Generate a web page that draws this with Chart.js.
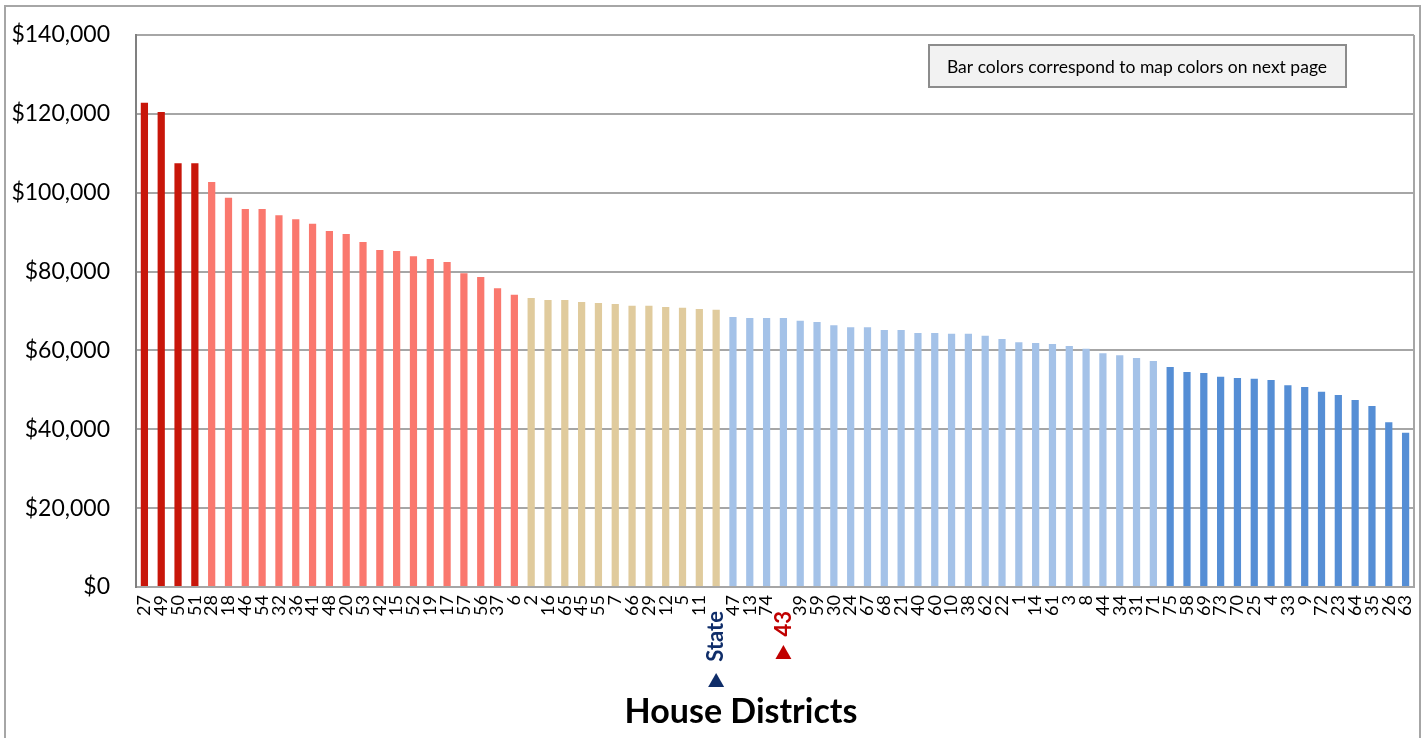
<!DOCTYPE html>
<html lang="en">
<head>
<meta charset="UTF-8">
<script src="https://cdn.jsdelivr.net/npm/chart.js"></script>
<title>House Districts</title>
<style>
  body { margin: 0; background: #fff; }
  #wrap { position: relative; width: 1425px; height: 738px; }
</style>
</head>
<body>
<div id="wrap">
  <canvas id="myChart" width="1425" height="738"></canvas>
</div>
<script>
// district labels, in chart order (highest to lowest)
const districts = ['27', '49', '50', '51', '28', '18', '46', '54', '32', '36', '41', '48', '20', '53', '42', '15', '52', '19', '17', '57', '56', '37', '6',
  '2', '16', '65', '45', '55', '7', '66', '29', '12', '5', '11', 'State',
  '47', '13', '74', '43', '39', '59', '30', '24', '67', '68', '21', '40', '60', '10', '38', '62', '22', '1', '14', '61', '3', '8', '44', '34', '31', '71',
  '75', '58', '69', '73', '70', '25', '4', '33', '9', '72', '23', '64', '35', '26', '63'];

const incomes = [122800, 120500, 107500, 107500, 102700, 98700, 95900, 95900, 94300, 93300, 92100, 90300, 89500, 87500, 85500, 85200, 83900, 83200, 82400, 79600, 78600, 75800, 74100,
  73300, 72800, 72800, 72300, 72000, 71800, 71300, 71300, 71000, 70800, 70500, 70300,
  68500, 68200, 68200, 68200, 67500, 67200, 66400, 65900, 65900, 65200, 65200, 64400, 64400, 64200, 64200, 63700, 62900, 62100, 61900, 61600, 61100, 60400, 59300, 58800, 58100, 57300,
  55800, 54500, 54300, 53300, 53000, 52800, 52500, 51200, 50700, 49500, 48700, 47400, 45900, 41800, 39100];

// map color class of each bar (1 = highest ... 5 = lowest)
const tiers = [1, 1, 1, 1,
  2, 2, 2, 2, 2, 2, 2, 2, 2, 2, 2, 2, 2, 2, 2, 2, 2, 2, 2,
  3, 3, 3, 3, 3, 3, 3, 3, 3, 3, 3, 3,
  4, 4, 4, 4, 4, 4, 4, 4, 4, 4, 4, 4, 4, 4, 4, 4, 4, 4, 4, 4, 4, 4, 4, 4, 4, 4,
  5, 5, 5, 5, 5, 5, 5, 5, 5, 5, 5, 5, 5, 5, 5];

const yTicks = [0, 20000, 40000, 60000, 80000, 100000, 120000, 140000];

const stateLabel = 'State';
const highlight = '43';
const noteText = 'Bar colors correspond to map colors on next page';
const axisTitle = 'House Districts';

const tierColors = { 1: '#C8160A', 2: '#FA786E', 3: '#E0CB9D', 4: '#A4C2E8', 5: '#558ED5' };

function isMarked(i) {
    return districts[i] === stateLabel || districts[i] === highlight;
}

const extras = {
    id: 'extras',
    beforeDraw(chart) {
        const ctx = chart.ctx;
        const a = chart.chartArea;
        ctx.save();
        // outer frame
        ctx.strokeStyle = '#A6A6A6';
        ctx.lineWidth = 2;
        ctx.beginPath();
        ctx.moveTo(5, 740);
        ctx.lineTo(5, 6);
        ctx.lineTo(1420, 6);
        ctx.lineTo(1420, 740);
        ctx.stroke();
        // plot area right edge
        ctx.beginPath();
        ctx.moveTo(a.right, a.top);
        ctx.lineTo(a.right, a.bottom);
        ctx.stroke();
        ctx.restore();
    },
    afterDraw(chart) {
        const ctx = chart.ctx;
        const x = chart.scales.x;
        ctx.save();
        // note box
        ctx.fillStyle = '#F2F2F2';
        ctx.fillRect(929, 45, 417, 42);
        ctx.strokeStyle = '#8C8C8C';
        ctx.lineWidth = 2;
        ctx.strokeRect(929, 45, 417, 42);
        ctx.fillStyle = '#000';
        ctx.font = '17.5px Lato';
        ctx.textAlign = 'center';
        ctx.textBaseline = 'middle';
        ctx.fillText(noteText, 1137, 67);

        // markers under State and highlighted district
        function tri(cx, cy, color) {
            ctx.fillStyle = color;
            ctx.beginPath();
            ctx.moveTo(cx, cy - 7);
            ctx.lineTo(cx + 8, cy + 7);
            ctx.lineTo(cx - 8, cy + 7);
            ctx.closePath();
            ctx.fill();
        }
        tri(x.getPixelForValue(districts.indexOf(highlight)), 652, '#C00000');
        tri(x.getPixelForValue(districts.indexOf(stateLabel)), 680, '#0F2D69');

        // axis title
        ctx.fillStyle = '#000';
        ctx.font = 'bold 34px Lato';
        ctx.textAlign = 'center';
        ctx.textBaseline = 'middle';
        ctx.fillText(axisTitle, 741, 712);
        ctx.restore();
    }
};

const data = {
    labels: districts,
    datasets: [{
        label: 'Median household income',
        data: incomes,
        backgroundColor: tiers.map(t => tierColors[t]),
        barPercentage: 0.43,
        categoryPercentage: 1.0
    }]
};

const config = {
    type: 'bar',
    data: data,
    options: {
        responsive: false,
        animation: false,
        layout: { padding: { left: 0, top: 35, right: 11, bottom: 0 } },
        plugins: {
            legend: { display: false },
            tooltip: { enabled: false }
        },
        scales: {
            x: {
                grid: { display: false, drawTicks: false },
                border: { display: true, color: '#A6A6A6', width: 2 },
                ticks: {
                    autoSkip: false,
                    minRotation: 90,
                    maxRotation: 90,
                    padding: 8,
                    // marked labels sit a little lower than the rest
                    callback: function (v, i) { return isMarked(i) ? districts[i] + '   ' : districts[i]; },
                    color: function (c) {
                        const l = districts[c.index];
                        if (l === stateLabel) return '#0F2D69';
                        if (l === highlight) return '#C00000';
                        return '#000';
                    },
                    font: function (c) {
                        const bold = isMarked(c.index);
                        return { family: 'Lato', size: bold ? 22 : 18, weight: bold ? 'bold' : 'normal' };
                    }
                },
                afterFit: function (scale) {
                    scale.height = 151;
                    scale.paddingLeft = 0;
                    scale.paddingRight = 0;
                }
            },
            y: {
                min: 0,
                max: 140000,
                afterBuildTicks: function (scale) {
                    scale.ticks = yTicks.map(v => ({ value: v }));
                },
                grid: { color: '#A6A6A6', lineWidth: 2, drawTicks: false },
                border: { display: true, color: '#808080', width: 2 },
                ticks: {
                    padding: 26,
                    color: '#000',
                    font: { family: 'Lato', size: 23 },
                    callback: function (v) { return '$' + Number(v).toLocaleString('en-US'); }
                },
                afterFit: function (scale) {
                    scale.width = 136;
                    // tick padding would otherwise push the plot top down
                    scale.paddingTop = 14;
                    scale.paddingBottom = 14;
                }
            }
        }
    },
    plugins: [extras]
};

var myChart = new Chart(document.getElementById('myChart'), config);
</script>
</body>
</html>
